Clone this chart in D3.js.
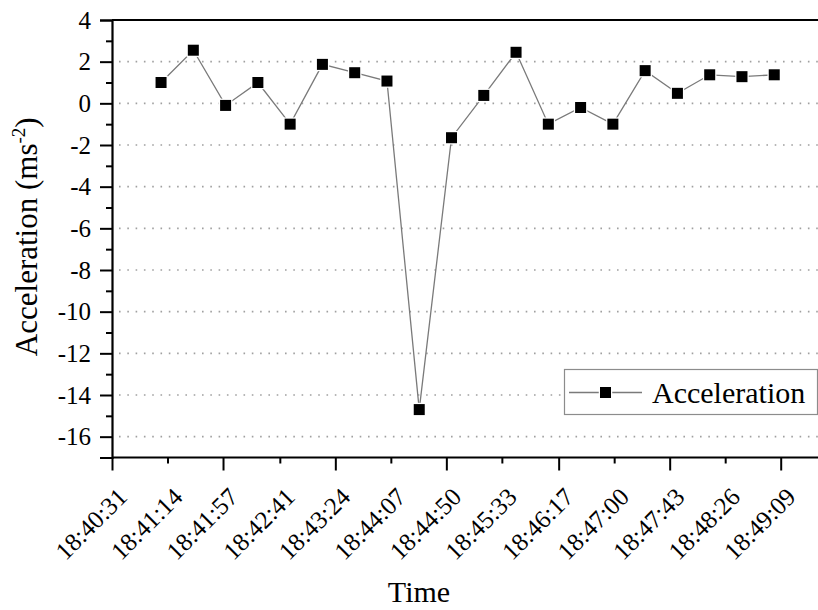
<!DOCTYPE html>
<html>
<head>
<meta charset="utf-8">
<script src="https://cdn.jsdelivr.net/npm/d3@7"></script>
<style>
	body { margin: 0; background: #fff; }
	svg, svg text { font-family: "Liberation Serif", "Times New Roman", serif; }
</style>
</head>
<body>
<div class="customChart"></div>
<script>
// sample times (every 25 s) and acceleration values
const times = ["18:41:09", "18:41:34", "18:41:59", "18:42:24", "18:42:49", "18:43:14", "18:43:39",
	"18:44:04", "18:44:29", "18:44:54", "18:45:19", "18:45:44", "18:46:09", "18:46:34",
	"18:46:59", "18:47:24", "18:47:49", "18:48:14", "18:48:39", "18:49:04"];
const accel = [1.0, 2.55, -0.1, 1.0, -1.0, 1.87, 1.47, 1.07, -14.7, -1.65, 0.38, 2.45,
	-1.0, -0.2, -1.0, 1.57, 0.48, 1.37, 1.28, 1.37];

const xTickLabels = ["18:40:31", "18:41:14", "18:41:57", "18:42:41", "18:43:24", "18:44:07", "18:44:50",
	"18:45:33", "18:46:17", "18:47:00", "18:47:43", "18:48:26", "18:49:09"];
const yMajorTicks = [-16, -14, -12, -10, -8, -6, -4, -2, 0, 2, 4];
const yMinorTicks = [-15, -13, -11, -9, -7, -5, -3, -1, 1, 3];

const toSec = s => { const p = s.split(":").map(Number); return p[0] * 3600 + p[1] * 60 + p[2]; };
const data = times.map((t, i) => ({t: toSec(t), v: accel[i]}));

const margin = ({top: 20, right: 0, bottom: 152.5, left: 112});
const W = 818, H = 610;
const height = H - margin.top - margin.bottom;
const frameWidth = 720; // frame runs past the right edge of the picture
const serif = '"Liberation Serif", "Times New Roman", serif';

const svg = d3.select('.customChart')
	.append('svg')
	.attr('width', W)
	.attr('height', H)
	.append("g")
	.attr("transform", "translate(" + margin.left + "," + margin.top + ")");

const xScale = d3.scaleLinear()
	.domain([toSec(xTickLabels[0]), toSec(xTickLabels[xTickLabels.length - 1])])
	.range([0, 668.7]);

const yScale = d3.scaleLinear()
	.domain([-17, 4])
	.range([height, 0]);

// dotted grid
svg.append("g")
	.selectAll("line")
	.data(yMajorTicks.filter(d => d < 4))
	.join("line")
	.attr("x1", 7).attr("x2", frameWidth)
	.attr("y1", d => yScale(d)).attr("y2", d => yScale(d))
	.attr("stroke", "#a0a0a0")
	.attr("stroke-width", 1.6)
	.attr("stroke-dasharray", "1.6,6.7");

// frame (top line)
svg.append("line")
	.attr("x1", 0).attr("x2", frameWidth)
	.attr("y1", 0).attr("y2", 0)
	.attr("stroke", "black").attr("stroke-width", 2.2);

// y axis
const leftAxis = svg.append("g")
	.attr("class", "axis y-axis")
	.call(d3.axisLeft(yScale).tickValues(yMajorTicks).tickSize(12).tickPadding(9).tickFormat(d3.format("d")));
leftAxis.selectAll(".tick text")
	.style("font-size", "25px")
	.style("font-family", serif)
	.text(d => d < 0 ? "-" + Math.abs(d) : d);
leftAxis.select(".domain").attr("stroke-width", 2.2);
leftAxis.selectAll(".tick line").attr("stroke-width", 2);
svg.append("g")
	.call(d3.axisLeft(yScale).tickValues(yMinorTicks).tickSize(6).tickFormat(""))
	.call(g => g.select(".domain").remove())
	.selectAll(".tick line").attr("stroke-width", 2);

// x axis
const bottomAxis = svg.append("g")
	.attr("class", "axis x-axis")
	.attr("transform", `translate(0, ${height})`)
	.call(d3.axisBottom(xScale)
		.tickValues(xTickLabels.map(toSec))
		.tickSize(0)
		.tickFormat((d, i) => xTickLabels[i]));
bottomAxis.select(".domain").attr("d", `M0,0H${frameWidth}`).attr("stroke-width", 2.2);
bottomAxis.selectAll(".tick line")
	.attr("y2", (d, i) => i % 2 === 0 ? 13 : 6)
	.attr("stroke-width", 2);
bottomAxis.selectAll(".tick text")
	.style("font-size", "25px")
	.style("font-family", serif)
	.attr("text-anchor", "end")
	.attr("dy", 0)
	.attr("y", 0)
	.attr("transform", "translate(16,41) rotate(-45)");

// series line
const line = d3.line()
	.x(d => xScale(d.t))
	.y(d => yScale(d.v));

svg.append("path")
	.datum(data)
	.attr("fill", "none")
	.attr("stroke", "#7a7a7a")
	.attr("stroke-width", 1.3)
	.attr("d", line);

svg.append("g")
	.selectAll("rect")
	.data(data)
	.join("rect")
	.attr("x", d => xScale(d.t) - 5.5)
	.attr("y", d => yScale(d.v) - 5.5)
	.attr("width", 11)
	.attr("height", 11)
	.attr("fill", "black")
	.attr("stroke", "white")
	.attr("stroke-width", 2.5)
	.attr("paint-order", "stroke");

// axis titles
svg.append("text")
	.attr("transform", `translate(${37 - margin.left}, ${height / 2 - 2}) rotate(-90)`)
	.attr("text-anchor", "middle")
	.style("font-size", "31px")
	.call(t => {
		t.append("tspan").text("Acceleration (ms");
		t.append("tspan").style("font-size", "19px").attr("dy", -12).text("-2");
		t.append("tspan").attr("dy", 12).text(")");
	});

svg.append("text")
	.attr("x", 307)
	.attr("y", 582)
	.attr("text-anchor", "middle")
	.style("font-size", "30px")
	.text("Time");

// legend
const legend = svg.append("g").attr("transform", "translate(452, 349)");
legend.append("rect")
	.attr("x", 0.5).attr("y", 0.5)
	.attr("width", 253).attr("height", 45)
	.attr("fill", "white")
	.attr("stroke", "#8c8c8c")
	.attr("stroke-width", 1.2);
legend.append("line")
	.attr("x1", 5).attr("x2", 78)
	.attr("y1", 23.5).attr("y2", 23.5)
	.attr("stroke", "#7a7a7a").attr("stroke-width", 1.3);
legend.append("rect")
	.attr("x", 36).attr("y", 18)
	.attr("width", 11).attr("height", 11)
	.attr("fill", "black")
	.attr("stroke", "white").attr("stroke-width", 2.5)
	.attr("paint-order", "stroke");
legend.append("text")
	.attr("x", 88)
	.attr("y", 34)
	.style("font-size", "30px")
	.text("Acceleration");
</script>
</body>
</html>
